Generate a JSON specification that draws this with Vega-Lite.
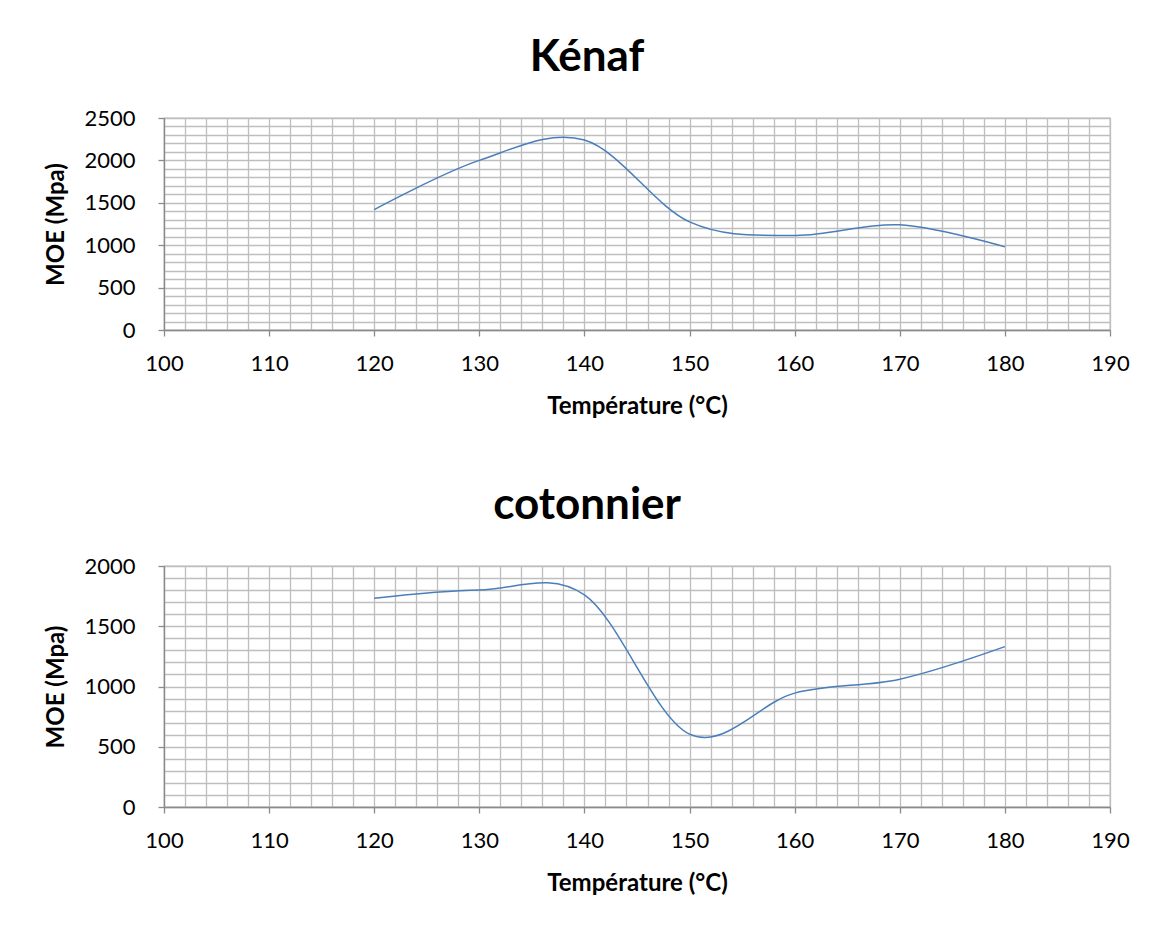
{
  "$schema": "https://vega.github.io/schema/vega-lite/v6.json",
  "padding": {"left": 44, "top": 35, "right": 0, "bottom": 0},
  "background": "white",
  "spacing": 64,
  "datasets": {
    "kenaf": [
      {"temp": 120, "moe": 1420},
      {"temp": 130, "moe": 2000},
      {"temp": 140, "moe": 2240},
      {"temp": 150, "moe": 1275},
      {"temp": 160, "moe": 1115},
      {"temp": 170, "moe": 1240},
      {"temp": 180, "moe": 980}
    ],
    "coton": [
      {"temp": 120, "moe": 1732},
      {"temp": 130, "moe": 1800},
      {"temp": 140, "moe": 1760},
      {"temp": 150, "moe": 605},
      {"temp": 160, "moe": 945},
      {"temp": 170, "moe": 1061},
      {"temp": 180, "moe": 1331}
    ]
  },
  "vconcat": [
    {
      "title": {"text": "Kénaf"},
      "width": 946,
      "height": 212,
      "data": {"name": "kenaf"},
      "mark": {"type": "line", "interpolate": "cardinal", "tension": 0, "color": "#4a7ebb", "strokeWidth": 1.5},
      "encoding": {
        "x": {"field": "temp", "type": "quantitative", "title": "Température (°C)",
              "scale": {"domain": [100, 190], "nice": false, "zero": false},
              "axis": {"tickCount": 45, "format": "d", "labelExpr": "datum.value % 10 === 0 ? datum.label : ''",
                       "tickOpacity": {"condition": {"test": "datum.value % 10 !== 0", "value": 0}, "value": 1}}},
        "y": {"field": "moe", "type": "quantitative", "title": "MOE (Mpa)",
              "scale": {"domain": [0, 2500], "nice": false},
              "axis": {"tickCount": 25, "format": "d", "labelExpr": "datum.value % 500 === 0 ? datum.label : ''",
                       "tickOpacity": {"condition": {"test": "datum.value % 500 !== 0", "value": 0}, "value": 1}}}
      }
    },
    {
      "title": {"text": "cotonnier"},
      "width": 946,
      "height": 241,
      "data": {"name": "coton"},
      "mark": {"type": "line", "interpolate": "cardinal", "tension": 0, "color": "#4a7ebb", "strokeWidth": 1.5},
      "encoding": {
        "x": {"field": "temp", "type": "quantitative", "title": "Température (°C)",
              "scale": {"domain": [100, 190], "nice": false, "zero": false},
              "axis": {"tickCount": 45, "format": "d", "labelExpr": "datum.value % 10 === 0 ? datum.label : ''",
                       "tickOpacity": {"condition": {"test": "datum.value % 10 !== 0", "value": 0}, "value": 1}}},
        "y": {"field": "moe", "type": "quantitative", "title": "MOE (Mpa)",
              "scale": {"domain": [0, 2000], "nice": false},
              "axis": {"tickCount": 20, "format": "d", "labelExpr": "datum.value % 500 === 0 ? datum.label : ''",
                       "tickOpacity": {"condition": {"test": "datum.value % 500 !== 0", "value": 0}, "value": 1}}}
      }
    }
  ],
  "config": {
    "font": "Lato",
    "view": {"stroke": "#bebebe", "strokeWidth": 1.3},
    "title": {"font": "Lato", "fontSize": 44, "fontWeight": "bold", "color": "#000000",
              "anchor": "middle", "frame": "bounds", "baseline": "alphabetic", "offset": 27},
    "axis": {
      "labelFont": "Lato", "labelFontSize": 22, "labelColor": "#000000", "labelOverlap": false, "labelFlush": false,
      "titleFont": "Lato", "titleFontSize": 24, "titleFontWeight": "bold", "titleColor": "#000000",
      "grid": true, "gridColor": "#bebebe", "gridWidth": 1.3, "gridOpacity": 1,
      "domainColor": "#8a8a8a", "domainWidth": 1.3,
      "tickColor": "#8a8a8a", "tickWidth": 1.3, "tickSize": 6
    },
    "axisX": {"labelPadding": 17, "titlePadding": 20},
    "axisY": {"labelPadding": 23, "titlePadding": 15}
  }
}
